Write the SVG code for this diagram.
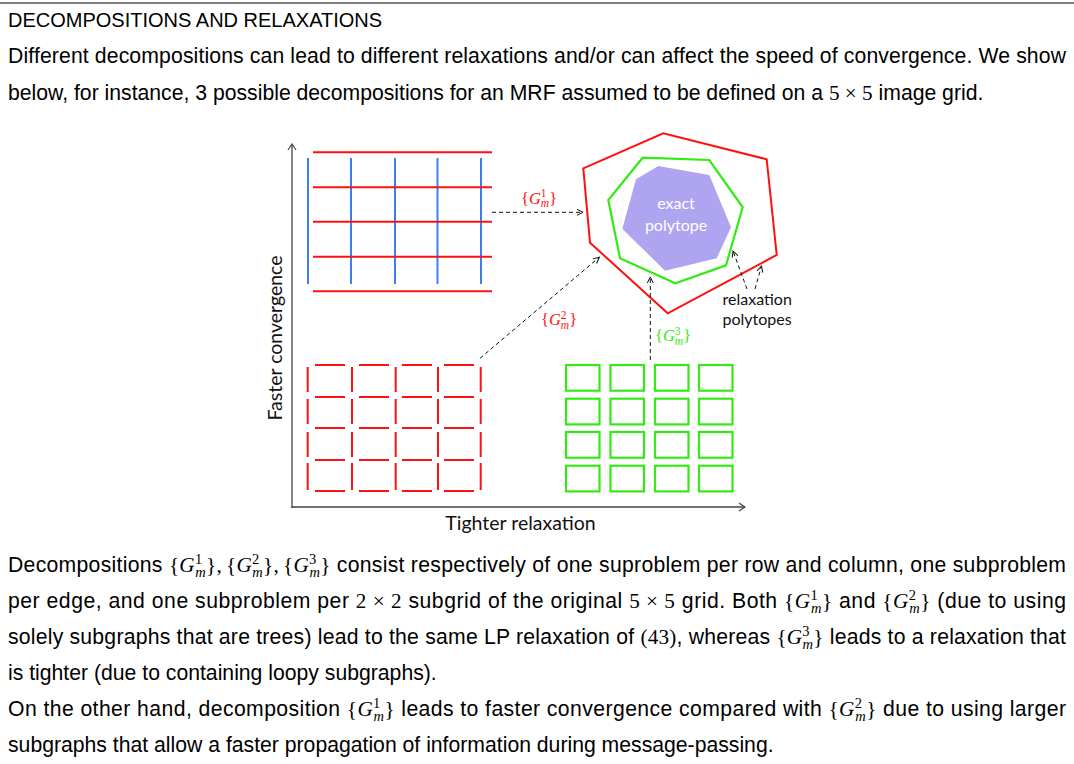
<svg xmlns="http://www.w3.org/2000/svg" width="1074" height="764" viewBox="0 0 1074 764">
<defs>
<style>
.t{font-family:"Liberation Sans",Arial,sans-serif;font-size:21.2px;fill:#000}
.mr{font-family:"Liberation Serif","Times New Roman",serif;font-style:normal}
.mi{font-family:"Liberation Serif","Times New Roman",serif;font-style:italic}
.ms{font-family:"Liberation Serif","Times New Roman",serif;font-size:14.5px}
.lab{font-family:Lato,"Open Sans",sans-serif;fill:#111}
.gl{font-family:"Liberation Serif","Times New Roman",serif;font-size:16.5px}
.gs{font-size:11.5px}
.red{stroke:#ff1010;stroke-width:2;fill:none}
.blue{stroke:#3d7ff2;stroke-width:2;fill:none}
.grn{stroke:#33ea14;stroke-width:2.2;fill:none}
.dash{stroke:#111;stroke-width:1;stroke-dasharray:4 3;fill:none;marker-end:url(#ah)}
.axis{stroke:#444;stroke-width:1.3;fill:none;marker-end:url(#ax)}
</style>
<marker id="ah" viewBox="0 0 8 8" refX="7" refY="4" markerWidth="8" markerHeight="8" markerUnits="userSpaceOnUse" orient="auto">
<path d="M1,1 L7,4 L1,7" fill="none" stroke="#111" stroke-width="1"/>
</marker>
<marker id="ax" viewBox="0 0 10 10" refX="9" refY="5" markerWidth="10" markerHeight="10" markerUnits="userSpaceOnUse" orient="auto">
<path d="M3,1 L9,5 L3,9" fill="none" stroke="#444" stroke-width="1.2"/>
</marker>
</defs>
<rect width="1074" height="764" fill="#fff"/>
<line x1="0" y1="3" x2="1074" y2="3" stroke="#000" stroke-width="1.2"/>

<g id="header-text">
<text class="t" x="8" y="27" style="font-size:20px">DECOMPOSITIONS AND RELAXATIONS</text>
<text class="t" x="8" y="63" textLength="1058" lengthAdjust="spacing">Different decompositions can lead to different relaxations and/or can affect the speed of convergence. We show</text>
<text class="t" x="8" y="100">below, for instance, 3 possible decompositions for an MRF assumed to be defined on a <tspan class="mr">5 × 5</tspan> image grid.</text>
</g>

<g id="axes">
<line class="axis" x1="292" y1="508" x2="292" y2="144"/>
<line class="axis" x1="291.4" y1="507" x2="745" y2="507"/>
<text class="lab" x="520.5" y="529.5" font-size="19.5" text-anchor="middle">Tighter relaxation</text>
<text class="lab" x="282" y="338" font-size="19.5" text-anchor="middle" transform="rotate(-90 282 338)">Faster convergence</text>
</g>

<g id="node-rowcol">
<line class="blue" x1="308" y1="158" x2="308" y2="284"/>
<line class="blue" x1="351" y1="158" x2="351" y2="284"/>
<line class="blue" x1="395" y1="158" x2="395" y2="284"/>
<line class="blue" x1="437.5" y1="158" x2="437.5" y2="284"/>
<line class="blue" x1="481" y1="158" x2="481" y2="284"/>
<line class="red" x1="313" y1="152.3" x2="492" y2="152.3"/>
<line class="red" x1="313" y1="187.3" x2="492" y2="187.3"/>
<line class="red" x1="313" y1="221.7" x2="492" y2="221.7"/>
<line class="red" x1="313" y1="256.7" x2="492" y2="256.7"/>
<line class="red" x1="313" y1="291.3" x2="492" y2="291.3"/>
</g>

<g id="node-edges">
<path class="red" d="M315,365H345M359,365H389M402,365H432M444,365H474
M315,397H345M359,397H389M402,397H432M444,397H474
M315,428H345M359,428H389M402,428H432M444,428H474
M315,460H345M359,460H389M402,460H432M444,460H474
M315,491H345M359,491H389M402,491H432M444,491H474"/>
<path class="red" d="M307.7,367V392M307.7,399V424M307.7,432V457M307.7,463V490
M352,367V392M352,399V424M352,432V457M352,463V490
M395.7,367V392M395.7,399V424M395.7,432V457M395.7,463V490
M438,367V392M438,399V424M438,432V457M438,463V490
M480.7,367V392M480.7,399V424M480.7,432V457M480.7,463V490"/>
</g>

<g id="node-subgrids">
<rect class="grn" x="566" y="365" width="33.5" height="25.7"/>
<rect class="grn" x="610.5" y="365" width="33.5" height="25.7"/>
<rect class="grn" x="655" y="365" width="33.5" height="25.7"/>
<rect class="grn" x="699" y="365" width="33.5" height="25.7"/>
<rect class="grn" x="566" y="398.7" width="33.5" height="25.7"/>
<rect class="grn" x="610.5" y="398.7" width="33.5" height="25.7"/>
<rect class="grn" x="655" y="398.7" width="33.5" height="25.7"/>
<rect class="grn" x="699" y="398.7" width="33.5" height="25.7"/>
<rect class="grn" x="566" y="432" width="33.5" height="25.7"/>
<rect class="grn" x="610.5" y="432" width="33.5" height="25.7"/>
<rect class="grn" x="655" y="432" width="33.5" height="25.7"/>
<rect class="grn" x="699" y="432" width="33.5" height="25.7"/>
<rect class="grn" x="566" y="465.7" width="33.5" height="25.7"/>
<rect class="grn" x="610.5" y="465.7" width="33.5" height="25.7"/>
<rect class="grn" x="655" y="465.7" width="33.5" height="25.7"/>
<rect class="grn" x="699" y="465.7" width="33.5" height="25.7"/>
</g>

<g id="node-polytopes">
<polygon class="red" points="583.3,168.3 663.3,133.3 766.7,159.3 776.7,255 667.7,313.3 590,242.7"/>
<polygon class="grn" points="642.7,157.7 709.3,160 742.7,207.3 726,265.3 675.3,283.3 620,258.3 608.3,200"/>
<polygon fill="#aea4f0" points="658.3,166 709.3,175 731,227.3 716.7,258.3 665,270.7 622.3,228.7 636,179.3"/>
<text class="lab" x="676" y="209" font-size="16" text-anchor="middle" style="fill:#fff">exact</text>
<text class="lab" x="676" y="230.5" font-size="16" text-anchor="middle" style="fill:#fff">polytope</text>
</g>

<g id="node-relaxation-label">
<text class="lab" x="722.5" y="305" font-size="16">relaxation</text>
<text class="lab" x="722.5" y="324.5" font-size="16">polytopes</text>
</g>

<g id="connectors">
<line class="dash" x1="492" y1="212.3" x2="583" y2="212.3"/>
<line class="dash" x1="480" y1="358.3" x2="599.3" y2="257.3"/>
<line class="dash" x1="650.3" y1="360" x2="650.3" y2="277"/>
<line class="dash" x1="747" y1="289" x2="733" y2="251"/>
<line class="dash" x1="755" y1="289" x2="761.5" y2="266"/>
</g>

<g id="connector-labels">
<text class="gl" x="521" y="203.5" fill="#ff1010"><tspan>{</tspan><tspan font-style="italic">G</tspan><tspan class="gs" dy="-6.5">1</tspan><tspan class="gs" font-style="italic" dx="-5.75" dy="10">m</tspan><tspan dy="-3.5">}</tspan></text>
<text class="gl" x="541" y="325" fill="#ff1010"><tspan>{</tspan><tspan font-style="italic">G</tspan><tspan class="gs" dy="-6.5">2</tspan><tspan class="gs" font-style="italic" dx="-5.75" dy="10">m</tspan><tspan dy="-3.5">}</tspan></text>
<text class="gl" x="655" y="341" fill="#33ea14"><tspan>{</tspan><tspan font-style="italic">G</tspan><tspan class="gs" dy="-6.5">3</tspan><tspan class="gs" font-style="italic" dx="-5.75" dy="10">m</tspan><tspan dy="-3.5">}</tspan></text>
</g>

<g id="body-text">
<text class="t" x="8" y="572" textLength="1058" lengthAdjust="spacing">Decompositions <tspan class="mr">{</tspan><tspan class="mi">G</tspan><tspan class="ms" dy="-8">1</tspan><tspan class="ms mi" dx="-7.25" dy="12.5">m</tspan><tspan class="mr" dy="-4.5">},</tspan><tspan class="mr" dx="4">{</tspan><tspan class="mi">G</tspan><tspan class="ms" dy="-8">2</tspan><tspan class="ms mi" dx="-7.25" dy="12.5">m</tspan><tspan class="mr" dy="-4.5">},</tspan><tspan class="mr" dx="4">{</tspan><tspan class="mi">G</tspan><tspan class="ms" dy="-8">3</tspan><tspan class="ms mi" dx="-7.25" dy="12.5">m</tspan><tspan class="mr" dy="-4.5">}</tspan> consist respectively of one suproblem per row and column, one subproblem</text>
<text class="t" x="8" y="608" textLength="1058" lengthAdjust="spacing">per edge, and one subproblem per <tspan class="mr">2 × 2</tspan> subgrid of the original <tspan class="mr">5 × 5</tspan> grid. Both <tspan class="mr">{</tspan><tspan class="mi">G</tspan><tspan class="ms" dy="-8">1</tspan><tspan class="ms mi" dx="-7.25" dy="12.5">m</tspan><tspan class="mr" dy="-4.5">}</tspan> and <tspan class="mr">{</tspan><tspan class="mi">G</tspan><tspan class="ms" dy="-8">2</tspan><tspan class="ms mi" dx="-7.25" dy="12.5">m</tspan><tspan class="mr" dy="-4.5">}</tspan> (due to using</text>
<text class="t" x="8" y="644" textLength="1058" lengthAdjust="spacing">solely subgraphs that are trees) lead to the same LP relaxation of <tspan class="mr">(43)</tspan>, whereas <tspan class="mr">{</tspan><tspan class="mi">G</tspan><tspan class="ms" dy="-8">3</tspan><tspan class="ms mi" dx="-7.25" dy="12.5">m</tspan><tspan class="mr" dy="-4.5">}</tspan> leads to a relaxation that</text>
<text class="t" x="8" y="680">is tighter (due to containing loopy subgraphs).</text>
<text class="t" x="8" y="716" textLength="1058" lengthAdjust="spacing">On the other hand, decomposition <tspan class="mr">{</tspan><tspan class="mi">G</tspan><tspan class="ms" dy="-8">1</tspan><tspan class="ms mi" dx="-7.25" dy="12.5">m</tspan><tspan class="mr" dy="-4.5">}</tspan> leads to faster convergence compared with <tspan class="mr">{</tspan><tspan class="mi">G</tspan><tspan class="ms" dy="-8">2</tspan><tspan class="ms mi" dx="-7.25" dy="12.5">m</tspan><tspan class="mr" dy="-4.5">}</tspan> due to using larger</text>
<text class="t" x="8" y="752">subgraphs that allow a faster propagation of information during message-passing.</text>
</g>
</svg>
